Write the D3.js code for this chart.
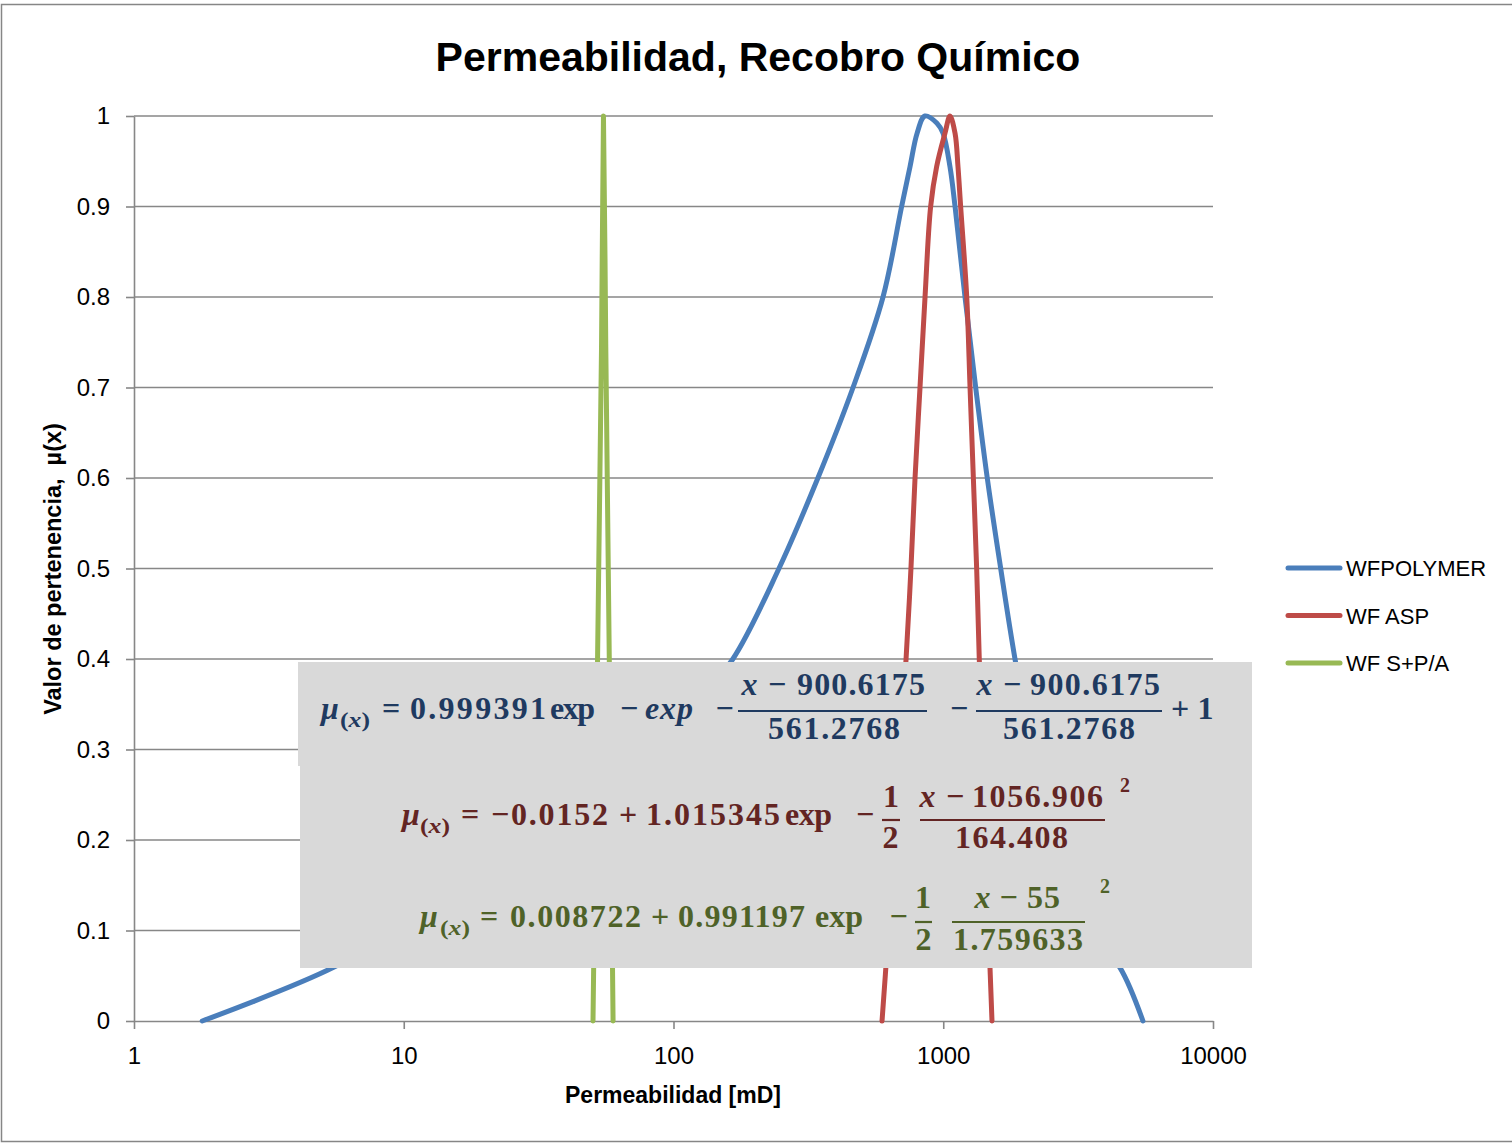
<!DOCTYPE html>
<html>
<head>
<meta charset="utf-8">
<script src="https://cdn.jsdelivr.net/npm/d3@7"></script>
<style>
  body { margin: 0; background: #fff; }
  svg text { font-family: "Liberation Sans", Arial, sans-serif; }
  .eq text { font-family: "Liberation Serif", "DejaVu Serif", serif; font-weight: bold; }
</style>
</head>
<body>
<svg id="chart" width="1512" height="1144"></svg>
<script>
// Membership curves: permeability (mD) vs membership value
const polymerK  = [1.79, 5.47, 12, 30, 70, 120, 166, 246, 343, 463, 598, 701, 753, 800, 855, 948, 998, 1059, 1106, 1204, 1319, 1456, 1633, 1845, 2133, 2530, 3500, 4520, 5500];
const polymerMu = [0, 0.059, 0.12, 0.2, 0.29, 0.35, 0.4, 0.5, 0.6, 0.7, 0.8, 0.9, 0.944, 0.981, 1.0, 0.992, 0.981, 0.944, 0.9, 0.8, 0.7, 0.6, 0.5, 0.4, 0.3, 0.2, 0.1, 0.059, 0];

const aspK  = [593, 613, 728, 759, 786, 820, 856, 898, 945, 1015, 1059, 1106, 1134, 1160, 1222, 1257, 1293, 1330, 1360, 1490, 1516];
const aspMu = [0, 0.06, 0.4, 0.5, 0.6, 0.7, 0.8, 0.9, 0.944, 0.981, 1, 0.981, 0.944, 0.9, 0.8, 0.7, 0.6, 0.5, 0.4, 0.06, 0];

const spaK  = [50.3, 52.3, 54.1, 55, 56.1, 57.8, 59.7];
const spaMu = [0, 0.4, 0.745, 1, 0.745, 0.4, 0];

const seriesNames  = ["WFPOLYMER", "WF ASP", "WF S+P/A"];
const seriesColors = ["#4a7ebb", "#be4b48", "#98b954"];

const xTickValues = [1, 10, 100, 1000, 10000];
const xTickLabels = ["1", "10", "100", "1000", "10000"];
const yTickValues = [0, 0.1, 0.2, 0.3, 0.4, 0.5, 0.6, 0.7, 0.8, 0.9, 1];
const yTickLabels = ["0", "0.1", "0.2", "0.3", "0.4", "0.5", "0.6", "0.7", "0.8", "0.9", "1"];

const chartTitle = "Permeabilidad, Recobro Químico";
const xTitle = "Permeabilidad [mD]";
const yTitle = "Valor de pertenencia,\u00a0 µ(x)";

const svg = d3.select("#chart");
const gridColor = "#878787";

// chart frame
svg.append("rect").attr("x", 1.5).attr("y", 4.5).attr("width", 1520).attr("height", 1137)
  .attr("fill", "#fff").attr("stroke", "#868686").attr("stroke-width", 1.5);

const plot = { left: 134, right: 1213, top: 116, bottom: 1021 };
const x = d3.scaleLog().domain([1, 10000]).range([plot.left, plot.right]);
const y = d3.scaleLinear().domain([0, 1]).range([plot.bottom, plot.top]);

// horizontal gridlines
svg.append("g").selectAll("line").data(yTickValues.filter(v => v > 0)).join("line")
  .attr("x1", plot.left).attr("x2", plot.right)
  .attr("y1", d => y(d)).attr("y2", d => y(d))
  .attr("stroke", gridColor).attr("stroke-width", 1.6);

// y axis
const yAxis = svg.append("g").attr("transform", `translate(${plot.left},0)`)
  .call(d3.axisLeft(y).tickValues(yTickValues).tickSize(8).tickSizeOuter(0).tickPadding(16)
    .tickFormat((d, i) => yTickLabels[i]));
// x axis
const xAxis = svg.append("g").attr("transform", `translate(0,${plot.bottom})`)
  .call(d3.axisBottom(x).tickValues(xTickValues).tickSize(8).tickSizeOuter(0).tickPadding(18)
    .tickFormat((d, i) => xTickLabels[i]));
[yAxis, xAxis].forEach(a => {
  a.select(".domain").attr("stroke", gridColor).attr("stroke-width", 1.6);
  a.selectAll(".tick line").attr("stroke", gridColor).attr("stroke-width", 1.6);
  a.selectAll(".tick text").attr("fill", "#000").style("font-size", "24px")
    .style("font-family", "'Liberation Sans', Arial, sans-serif");
});

// series
const line = d3.line().x(d => x(d[0])).y(d => y(d[1])).curve(d3.curveCatmullRom.alpha(0.5));
const series = [
  d3.zip(polymerK, polymerMu),
  d3.zip(aspK, aspMu),
  d3.zip(spaK, spaMu)
];
svg.append("g").selectAll("path").data(series).join("path")
  .attr("d", line).attr("fill", "none")
  .attr("stroke", (d, i) => seriesColors[i]).attr("stroke-width", 5)
  .attr("stroke-linecap", "round").attr("stroke-linejoin", "round");

// titles
svg.append("text").attr("x", 758).attr("y", 71).attr("text-anchor", "middle")
  .style("font-size", "41px").style("font-weight", "bold").text(chartTitle);
svg.append("text").attr("x", 673).attr("y", 1103).attr("text-anchor", "middle")
  .style("font-size", "23px").style("font-weight", "bold").text(xTitle);
svg.append("text").attr("transform", "translate(61,569) rotate(-90)").attr("text-anchor", "middle")
  .style("font-size", "23.5px").style("font-weight", "bold").text(yTitle);

// legend
const legend = svg.append("g").selectAll("g").data(seriesNames).join("g")
  .attr("transform", (d, i) => `translate(1288,${568 + i * 47.5})`);
legend.append("line").attr("x1", 0).attr("x2", 52).attr("y1", 0).attr("y2", 0)
  .attr("stroke", (d, i) => seriesColors[i]).attr("stroke-width", 5).attr("stroke-linecap", "round");
legend.append("text").attr("x", 58).attr("y", 8).style("font-size", "22px").attr("fill", "#000").text(d => d);

// fitted-function panel
svg.append("rect").attr("x", 298).attr("y", 662).attr("width", 954).attr("height", 104).attr("fill", "#d9d9d9");
svg.append("rect").attr("x", 300).attr("y", 765).attr("width", 952).attr("height", 203).attr("fill", "#d9d9d9");

// each piece: [text, x0, x1, baseline, italic?, size]
const eqPieces = [
  { color: "#1f3a60", pieces: [
    ["μ", 321, 339, 719, true, 32], ["(x)", 340, 370, 727, "sub", 22],
    ["=", 381, 401, 719], ["0.999391", 410, 546, 719], ["exp", 550, 595, 719],
    ["−", 620, 638, 719], ["exp", 645, 693, 719, true], ["−", 716, 733, 719],
    ["x", 742, 757, 695, true], ["−", 767, 787, 695], ["900.6175", 797, 925, 695],
    ["561.2768", 768, 900, 739],
    ["−", 950, 968, 719],
    ["x", 977, 992, 695, true], ["−", 1002, 1022, 695], ["900.6175", 1030, 1160, 695],
    ["561.2768", 1003, 1135, 739],
    ["+", 1170, 1190, 719], ["1", 1198, 1213, 719]
  ], bars: [[738, 927, 711], [976, 1162, 711]] },
  { color: "#632523", pieces: [
    ["μ", 403, 419, 825, true, 32], ["(x)", 420, 450, 833, "sub", 22],
    ["=", 460, 480, 825], ["−0.0152", 491, 608, 825], ["+", 618, 638, 825],
    ["1.015345", 646, 780, 825], ["exp", 785, 832, 825], ["−", 857, 873, 825],
    ["1", 884, 898, 807], ["2", 883, 898, 848],
    ["x", 920, 935, 807, true], ["−", 945, 965, 807], ["1056.906", 972, 1103, 807],
    ["164.408", 955, 1068, 848],
    ["2", 1119, 1131, 792, false, 20]
  ], bars: [[882, 900, 820], [920, 1105, 820]] },
  { color: "#4f6228", pieces: [
    ["μ", 421, 437, 927, true, 32], ["(x)", 440, 470, 935, "sub", 22],
    ["=", 480, 498, 927], ["0.008722", 510, 641, 927], ["+", 650, 670, 927],
    ["0.991197", 678, 805, 927], ["exp", 815, 863, 927], ["−", 890, 907, 927],
    ["1", 916, 930, 908], ["2", 916, 931, 950],
    ["x", 975, 990, 908, true], ["−", 999, 1018, 908], ["55", 1027, 1060, 908],
    ["1.759633", 953, 1083, 950],
    ["2", 1099, 1111, 893, false, 20]
  ], bars: [[915, 932, 922], [952, 1085, 922]] }
];

eqPieces.forEach(eq => {
  const g = svg.append("g").attr("class", "eq").attr("fill", eq.color);
  eq.pieces.forEach(([t, x0, x1, yb, it, size]) => {
    const fs = size || 32;
    if (it === "sub") {
      const tx = g.append("text").attr("x", x0).attr("y", yb).style("font-size", fs + "px");
      tx.append("tspan").text("(");
      tx.append("tspan").style("font-style", "italic").text("x");
      tx.append("tspan").text(")");
      tx.attr("textLength", x1 - x0).attr("lengthAdjust", "spacingAndGlyphs");
      return;
    }
    const el = g.append("text").attr("y", yb).style("font-size", fs + "px")
      .style("font-style", it ? "italic" : "normal").text(t);
    if (t.length > 1) {
      el.attr("x", x0).attr("textLength", x1 - x0).attr("lengthAdjust", "spacing");
    } else {
      el.attr("x", (x0 + x1) / 2).attr("text-anchor", "middle");
    }
  });
  eq.bars.forEach(([a, b, yy]) => {
    g.append("line").attr("x1", a).attr("x2", b).attr("y1", yy).attr("y2", yy)
      .attr("stroke", eq.color).attr("stroke-width", 2.2);
  });
});
</script>
</body>
</html>
